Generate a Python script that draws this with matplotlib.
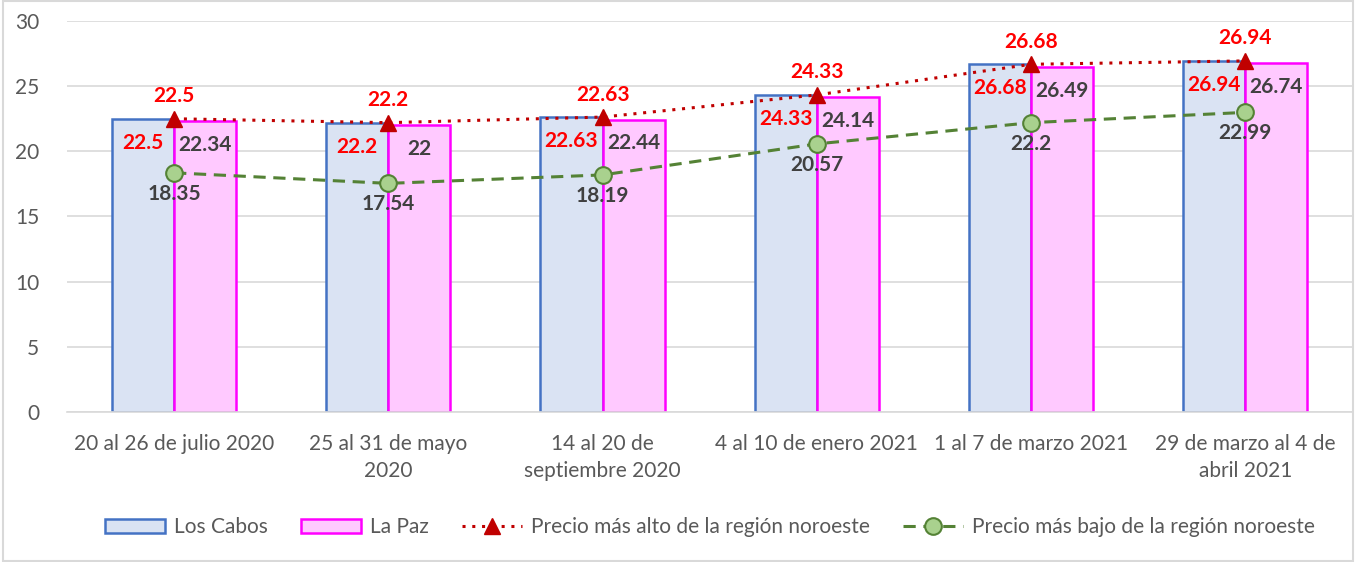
import matplotlib.pyplot as plt
import numpy as np
from matplotlib.patches import Rectangle

plt.rcParams['font.family'] = ['Lato', 'DejaVu Sans']

categories = ['20 al 26 de julio 2020', '25 al 31 de mayo\n2020', '14 al 20 de\nseptiembre 2020',
              '4 al 10 de enero 2021', '1 al 7 de marzo 2021', '29 de marzo al 4 de\nabril 2021']
los_cabos = [22.5, 22.2, 22.63, 24.33, 26.68, 26.94]
la_paz = [22.34, 22, 22.44, 24.14, 26.49, 26.74]
precio_alto = [22.5, 22.2, 22.63, 24.33, 26.68, 26.94]
precio_bajo = [18.35, 17.54, 18.19, 20.57, 22.2, 22.99]
y_ticks = [0, 5, 10, 15, 20, 25, 30]

fig = plt.figure(figsize=(13.56, 5.62), dpi=100)
ax = fig.add_axes([0.0494, 0.267, 0.948, 0.6956])
fig.patches.append(Rectangle((0.002, 0.002), 0.996, 0.996, transform=fig.transFigure,
                             fill=False, edgecolor='#D9D9D9', linewidth=1.5))

x = np.arange(len(categories))
w = 0.29
b1 = ax.bar(x - w / 2, los_cabos, w, color='#DAE3F3', edgecolor='#4472C4', linewidth=1.8,
            label='Los Cabos', zorder=2)
b2 = ax.bar(x + w / 2, la_paz, w, color='#FFC9FF', edgecolor='#FF00FF', linewidth=1.8,
            label='La Paz', zorder=2)
l1, = ax.plot(x, precio_alto, linestyle=(0, (1, 2.2)), color='#C00000', linewidth=2.2,
              marker='^', markersize=12, markerfacecolor='#C00000', markeredgecolor='#C00000',
              label='Precio más alto de la región noroeste', zorder=4)
l2, = ax.plot(x, precio_bajo, linestyle=(0, (4, 2.5)), color='#548235', linewidth=2.2,
              marker='o', markersize=12, markerfacecolor='#A9D18E', markeredgecolor='#548235',
              markeredgewidth=1.5, label='Precio más bajo de la región noroeste', zorder=4)

# etiquetas de datos
fs = 15
for i in range(len(categories)):
    ax.annotate(f'{los_cabos[i]:g}', (x[i] - w / 2, los_cabos[i]), xytext=(0, -10),
                textcoords='offset points', ha='center', va='top', color='#FF0000',
                fontsize=fs, fontweight='bold', zorder=5)
    ax.annotate(f'{la_paz[i]:g}', (x[i] + w / 2, la_paz[i]), xytext=(0, -10),
                textcoords='offset points', ha='center', va='top', color='#404040',
                fontsize=fs, fontweight='bold', zorder=5)
    ax.annotate(f'{precio_alto[i]:g}', (x[i], precio_alto[i]), xytext=(0, 9),
                textcoords='offset points', ha='center', va='bottom', color='#FF0000',
                fontsize=fs, fontweight='bold', zorder=5)
    ax.annotate(f'{precio_bajo[i]:g}', (x[i], precio_bajo[i]), xytext=(0, -8),
                textcoords='offset points', ha='center', va='top', color='#404040',
                fontsize=fs, fontweight='bold', zorder=5)

ax.set_xlim(-0.5, len(categories) - 0.5)
ax.set_ylim(0, 30)
ax.set_yticks(y_ticks)
ax.set_xticks(x)
ax.set_xticklabels(categories, fontsize=15, color='#595959', linespacing=1.45)
ax.tick_params(axis='y', labelsize=15, labelcolor='#595959', length=0, pad=20)
ax.tick_params(axis='x', length=0, pad=16)
ax.grid(axis='y', color='#D9D9D9', linewidth=1.2, zorder=0)
ax.set_axisbelow(True)
for s in ['top', 'right', 'left']:
    ax.spines[s].set_visible(False)
ax.spines['bottom'].set_color('#D9D9D9')
ax.spines['bottom'].set_linewidth(1.2)

ax.legend(handles=[b1, b2, l1, l2], loc='center', bbox_to_anchor=(0.5, -0.295), ncol=4,
          frameon=False, fontsize=15, labelcolor='#595959', handlelength=2.9, handleheight=0.7,
          handletextpad=0.4, columnspacing=1.6)

plt.savefig('out.png', dpi=100)
